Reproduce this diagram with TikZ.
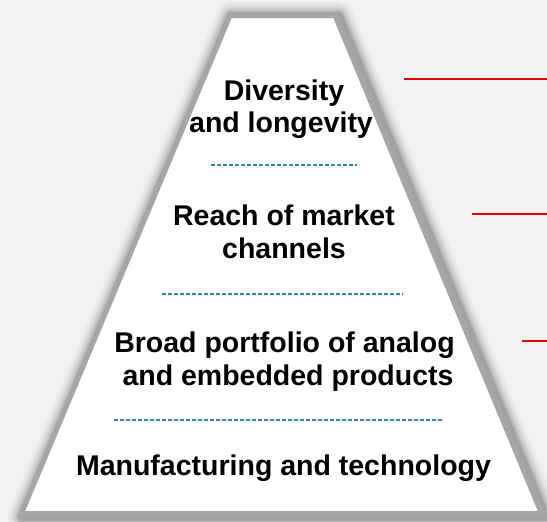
\documentclass[tikz,border=0pt]{standalone}
\usepackage{fontspec}
\setmainfont{Liberation Sans}
\definecolor{bgc}{HTML}{F2F2F2}
\definecolor{bordc}{HTML}{A6A6A6}
\definecolor{tealc}{HTML}{31849B}
\definecolor{redc}{HTML}{E00000}
\tikzset{
  lbl/.style={anchor=base, inner sep=0pt, font=\bfseries\fontsize{28.5}{32}\selectfont, text=black},
  sep/.style={draw=tealc, line width=1.4pt, dash pattern=on 4pt off 2pt},
  redline/.style={draw=redc, line width=2pt},
  shad/.style={draw=black, line join=round},
}
\begin{document}
\begin{tikzpicture}[x=1pt,y=-1pt]
\fill[bgc] (0,0) rectangle (547,522);
\useasboundingbox (0,0) rectangle (547,522);
% soft shadow
\foreach \w/\o in {28/0.04,22/0.05,17/0.07,12/0.09,8/0.12}{
  \draw[shad, line width=\w pt, opacity=\o] (231,16) -- (339,16) -- (546,517) -- (22,517) -- cycle;
}
% pyramid
\draw[draw=bordc, fill=white, line width=5pt, line join=miter]
  (230,15.5) -- (335,15.5) -- (541.5,513.5) -- (21.5,513.5) -- cycle;
% texts
\node[lbl] (t1) at (284,100) {Diversity};
\node[lbl] (t2) at (281,132) {and longevity};
\node[lbl] (t3) at (284,225) {Reach of market};
\node[lbl] (t4) at (284,258) {channels};
\node[lbl] (t5) at (284.5,352) {Broad portfolio of analog};
\node[lbl] (t6) at (288,385) {and embedded products};
\node[lbl] (t7) at (283.5,475) {Manufacturing and technology};
% separators
\coordinate (s1a) at (211,165); \coordinate (s1b) at (357,165);
\coordinate (s2a) at (162,294); \coordinate (s2b) at (403,294);
\coordinate (s3a) at (114,420); \coordinate (s3b) at (442,420);
\draw[sep] (s1a) -- (s1b);
\draw[sep] (s2a) -- (s2b);
\draw[sep] (s3a) -- (s3b);
% red lines
\coordinate (r1a) at (404,79); \coordinate (r1b) at (547,79);
\coordinate (r2a) at (472,214); \coordinate (r2b) at (547,214);
\coordinate (r3a) at (522,341); \coordinate (r3b) at (547,341);
\draw[redline] (r1a) -- (r1b);
\draw[redline] (r2a) -- (r2b);
\draw[redline] (r3a) -- (r3b);
\end{tikzpicture}
\end{document}
